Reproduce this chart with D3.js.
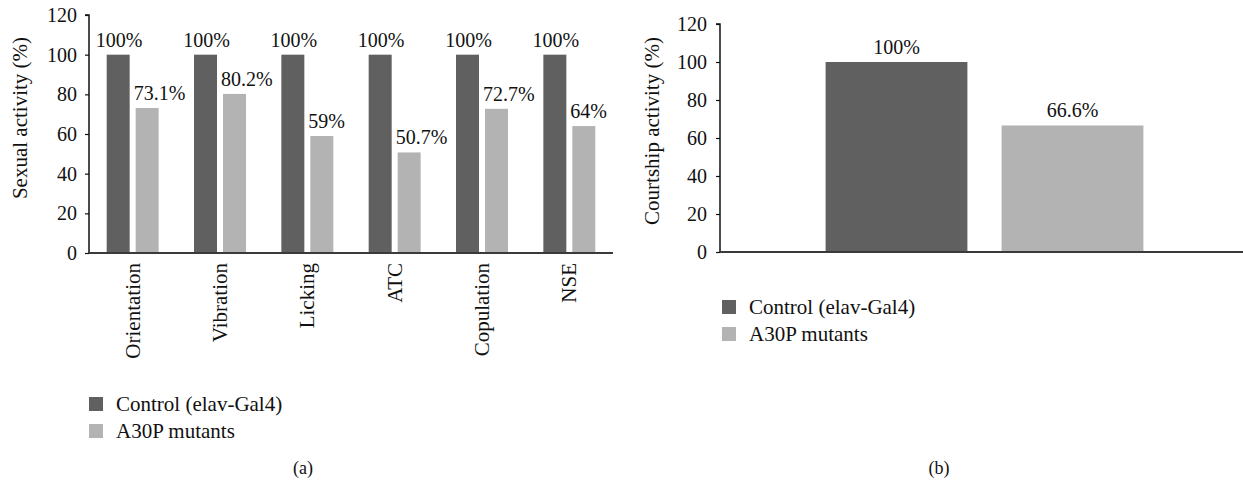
<!DOCTYPE html>
<html>
<head>
<meta charset="utf-8">
<script src="https://cdn.jsdelivr.net/npm/d3@7"></script>
<style>
  html, body { margin: 0; padding: 0; background: #fff; }
  svg { display: block; }
  text { font-family: "Liberation Serif", "DejaVu Serif", serif; fill: #111; }
</style>
</head>
<body>
<svg id="chart" width="1243" height="482"></svg>
<script>
// ---- data ----
const categoriesA = ["Orientation", "Vibration", "Licking", "ATC", "Copulation", "NSE"];
const seriesNames = ["Control (elav-Gal4)", "A30P mutants"];
const controlA = [100, 100, 100, 100, 100, 100];
const mutantA = [73.1, 80.2, 59, 50.7, 72.7, 64];
const labelsControlA = ["100%", "100%", "100%", "100%", "100%", "100%"];
const labelsMutantA = ["73.1%", "80.2%", "59%", "50.7%", "72.7%", "64%"];
const categoriesB = ["Courtship"];
const controlB = [100];
const mutantB = [66.6];
const labelsControlB = ["100%"];
const labelsMutantB = ["66.6%"];
const yTicks = [0, 20, 40, 60, 80, 100, 120];
const captions = ["(a)", "(b)"];

const colors = { "Control (elav-Gal4)": "#606060", "A30P mutants": "#b3b3b3" };
const FONT = '"Liberation Serif", "DejaVu Serif", serif';
const FS_NUM = 20;
const FS_TXT = 21;

const svg = d3.select("#chart");

function drawPanel(opt) {
  const g = svg.append("g");
  const y = d3.scaleLinear().domain([0, 120]).range([opt.y0, opt.y1]);
  const x = d3.scaleBand().domain(opt.categories).range([opt.x0, opt.x1]).padding(0);
  const xs = d3.scaleBand().domain(seriesNames).range([0, x.bandwidth()])
    .paddingInner(opt.pi).paddingOuter(opt.po);

  const rows = opt.categories.map((c, i) => ({
    cat: c,
    vals: [
      { s: seriesNames[0], v: opt.control[i], lab: opt.labC[i] },
      { s: seriesNames[1], v: opt.mutant[i], lab: opt.labM[i] }
    ]
  }));
  const grp = g.selectAll("g.cat").data(rows).join("g")
    .attr("class", "cat")
    .attr("transform", d => `translate(${x(d.cat)},0)`);
  grp.selectAll("rect").data(d => d.vals).join("rect")
    .attr("x", d => xs(d.s))
    .attr("width", xs.bandwidth())
    .attr("y", d => y(d.v))
    .attr("height", d => y(0) - y(d.v))
    .attr("fill", d => colors[d.s]);
  grp.selectAll("text.lab").data(d => d.vals).join("text")
    .attr("class", "lab")
    .attr("x", d => opt.labelPos(d, xs))
    .attr("y", d => y(d.v) - 8)
    .attr("text-anchor", d => opt.labelAnchor(d))
    .style("font-size", FS_NUM + "px")
    .text(d => d.lab);

  // y axis
  const ya = g.append("g").attr("transform", `translate(${opt.x0},0)`)
    .call(d3.axisLeft(y).tickValues(yTicks).tickSize(4).tickPadding(opt.tickPad));
  ya.select(".domain").attr("stroke", "#111").attr("stroke-width", 1.5)
    .attr("d", `M-4,${y(120)}H0V${y(0)}`);
  ya.selectAll(".tick line").attr("stroke", "#111").attr("stroke-width", 1.2);
  ya.selectAll(".tick text").style("font-size", FS_NUM + "px")
    .style("font-family", FONT).attr("fill", "#111");

  // x axis
  const xa = g.append("g").attr("transform", `translate(0,${opt.y0})`)
    .call(d3.axisBottom(x).tickSize(0).tickPadding(10));
  xa.select(".domain").attr("stroke", "#3a3a3a").attr("stroke-width", 2)
    .attr("d", `M${opt.x0},0H${opt.axisEnd}`);
  xa.selectAll(".tick text")
    .style("font-size", FS_TXT + "px")
    .style("font-family", FONT).attr("fill", "#111")
    .attr("text-anchor", "end")
    .attr("transform", "rotate(-90)")
    .attr("x", -10).attr("y", 0).attr("dy", "0.33em")
    .style("display", opt.showCats ? null : "none");

  // y title
  g.append("text")
    .attr("transform", `translate(${opt.titleX},${opt.titleY}) rotate(-90)`)
    .attr("text-anchor", "middle")
    .attr("dy", "0.35em")
    .style("font-size", FS_TXT + "px")
    .text(opt.title);

  // legend
  seriesNames.forEach((s, i) => {
    g.append("rect").attr("x", opt.legX).attr("y", opt.legY + i * 27)
      .attr("width", 14).attr("height", 14).attr("fill", colors[s]);
    g.append("text").attr("x", opt.legX + 27).attr("y", opt.legY + 14 + i * 26.5)
      .style("font-size", FS_TXT + "px").text(s);
  });

  // caption
  g.append("text").attr("x", opt.capX).attr("y", 474)
    .attr("text-anchor", "middle").style("font-size", "18px").text(opt.caption);
}

drawPanel({
  categories: categoriesA, control: controlA, mutant: mutantA,
  labC: labelsControlA, labM: labelsMutantA, showCats: true,
  x0: 89, x1: 613, axisEnd: 613, y0: 253, y1: 15,
  pi: 6 / 29, po: 0.61, tickPad: 8,
  labelPos: (d, xs) => d.s === seriesNames[0] ? xs(d.s) + xs.bandwidth() / 2 + 1 : xs(d.s) - 2,
  labelAnchor: d => d.s === seriesNames[0] ? "middle" : "start",
  title: "Sexual activity (%)", titleX: 20, titleY: 118,
  legX: 89, legY: 397, capX: 303, caption: captions[0]
});

drawPanel({
  categories: categoriesB, control: controlB, mutant: mutantB,
  labC: labelsControlB, labM: labelsMutantB, showCats: false,
  x0: 720, x1: 1249, axisEnd: 1243, y0: 252, y1: 24,
  pi: 34 / 175, po: 0.6, tickPad: 9,
  labelPos: (d, xs) => xs(d.s) + xs.bandwidth() / 2,
  labelAnchor: d => "middle",
  title: "Courtship activity (%)", titleX: 652, titleY: 131,
  legX: 722, legY: 300, capX: 939, caption: captions[1]
});
</script>
</body>
</html>
